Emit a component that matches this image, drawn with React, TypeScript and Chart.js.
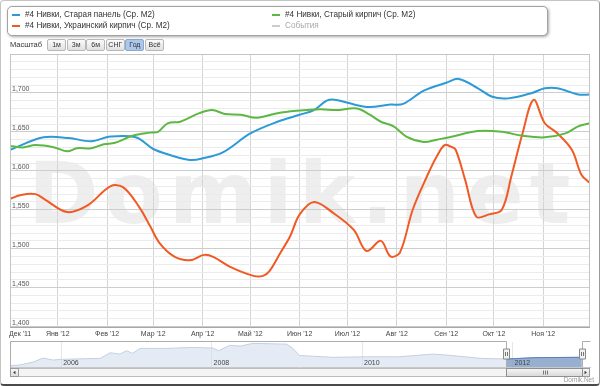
import React, { useEffect, useRef } from "react";
import { Chart, registerables } from "chart.js";

Chart.register(...registerables);

const FONT = '"Liberation Sans", Arial, Helvetica, sans-serif';

// ---- main chart data (x = days since 1 Dec 2011) ----
const monthDays = [0, 31, 62, 91, 122, 152, 183, 213, 244, 275, 305, 336];
const monthLabels = ["Дек '11", "Янв '12", "Фев '12", "Мар '12", "Апр '12", "Май '12", "Июн '12", "Июл '12", "Авг '12", "Сен '12", "Окт '12", "Ноя '12"];
const yLabelValues = [1400, 1450, 1500, 1550, 1600, 1650, 1700];
const yMin = 1400;
const yMax = 1750;
const yGridStep = 10;

const seriesNames = [
  "#4 Нивки, Старая панель (Ср. М2)",
  "#4 Нивки, Старый кирпич (Ср. М2)",
  "#4 Нивки, Украинский кирпич (Ср. М2)",
  "События",
];

const panelDays = [1, 22, 38, 52, 64, 80, 91, 102, 114, 122, 135, 152, 169, 183, 192, 200, 206, 225, 240, 248, 261, 275, 283, 295, 304, 314, 329, 337, 345, 358, 365];
const panelValues = [1627, 1643, 1642, 1638, 1644, 1643, 1628, 1620, 1614, 1616, 1624, 1648, 1663, 1672, 1678, 1690, 1691, 1682, 1685, 1686, 1703, 1713, 1718, 1706, 1695, 1693, 1700, 1706, 1706, 1698, 1698];

const oldBrickDays = [1, 9, 17, 29, 37, 43, 52, 60, 67, 78, 89, 94, 100, 108, 120, 128, 136, 146, 156, 169, 181, 196, 206, 219, 227, 234, 242, 250, 261, 269, 277, 295, 310, 323, 337, 350, 358, 365];
const oldBrickValues = [1632, 1630, 1633, 1630, 1625, 1629, 1629, 1634, 1636, 1645, 1649, 1650, 1661, 1663, 1674, 1678, 1673, 1672, 1668, 1674, 1677, 1679, 1678, 1680, 1672, 1663, 1657, 1644, 1637, 1640, 1643, 1651, 1650, 1645, 1643, 1648, 1657, 1661];

const ukrBrickDays = [1, 8, 17, 23, 37, 50, 64, 72, 82, 89, 95, 104, 114, 123, 129, 139, 154, 160, 164, 171, 177, 183, 192, 204, 217, 225, 234, 240, 246, 254, 263, 269, 274, 278, 281, 287, 294, 302, 310, 316, 323, 330, 337, 345, 354, 360, 365];
const ukrBrickValues = [1564, 1569, 1570, 1563, 1547, 1556, 1580, 1579, 1554, 1529, 1507, 1490, 1485, 1492, 1489, 1477, 1465, 1465, 1471, 1495, 1516, 1544, 1560, 1546, 1524, 1497, 1510, 1490, 1495, 1550, 1593, 1618, 1633, 1631, 1627, 1588, 1541, 1544, 1550, 1593, 1648, 1691, 1661, 1648, 1627, 1595, 1585];

// ---- navigator data (x = year) ----
const navYears = [2005.32, 2005.45, 2005.63, 2005.76, 2005.89, 2006.02, 2006.52, 2006.65, 2006.78, 2006.87, 2006.95, 2007.05, 2007.41, 2007.75, 2008.02, 2008.09, 2008.24, 2008.38, 2008.55, 2009.0, 2009.08, 2009.17, 2009.61, 2010.07, 2010.5, 2010.94, 2011.17, 2011.57, 2011.92, 2012.27, 2012.92];
const navValues = [250, 360, 890, 1600, 1250, 1370, 1550, 2540, 2310, 2900, 2440, 3330, 3330, 3500, 3380, 2900, 3860, 3740, 4220, 4090, 3330, 2050, 1730, 1830, 1830, 2310, 2080, 1550, 1420, 1660, 1740];
const navYearTicks = [2006, 2008, 2010, 2012];
const navRange = [2005.32, 2013.03];
const selectionRange = [2011.92, 2012.92];

const rangeButtons = ["1м", "3м", "6м", "СНГ", "Год", "Всё"];
const selectedButton = 4;

const BLUE = "#2d9ad7";
const GREEN = "#5db843";
const ORANGE = "#f15a24";

const watermarkPlugin = {
  id: "watermark",
  beforeDraw(chart: any) {
    const { ctx, chartArea } = chart;
    ctx.save();
    ctx.beginPath();
    ctx.rect(chartArea.left, chartArea.top, chartArea.right - chartArea.left, chartArea.bottom - chartArea.top);
    ctx.clip();
    ctx.font = 'bold 85px "DejaVu Sans", sans-serif';
    (ctx as any).letterSpacing = "6px";
    ctx.fillStyle = "#eeeeee";
    ctx.textAlign = "left";
    ctx.textBaseline = "alphabetic";
    ctx.fillText("Domik.net", 28, 223);
    ctx.restore();
  },
};

const mainLabelsPlugin = {
  id: "mainLabels",
  afterDraw(chart: any) {
    const { ctx, chartArea } = chart;
    const x = chart.scales.x;
    const y = chart.scales.y;
    ctx.save();
    // border
    ctx.strokeStyle = "#c4c4c4";
    ctx.lineWidth = 1;
    ctx.strokeRect(chartArea.left + 0.5, chartArea.top + 0.5, chartArea.right - chartArea.left - 1, chartArea.bottom - chartArea.top);
    ctx.strokeStyle = "#a8a8a8";
    ctx.beginPath();
    ctx.moveTo(chartArea.left, Math.round(chartArea.bottom) + 0.5);
    ctx.lineTo(chartArea.right, Math.round(chartArea.bottom) + 0.5);
    ctx.stroke();

    ctx.font = `7px ${FONT}`;
    ctx.fillStyle = "#555";
    ctx.textAlign = "left";
    ctx.textBaseline = "alphabetic";
    yLabelValues.forEach((v) => {
      const py = y.getPixelForValue(v);
      ctx.fillText(v.toLocaleString("en-US"), chartArea.left + 2, py - 1.5);
    });
    ctx.fillStyle = "#444";
    monthDays.forEach((d, i) => {
      const label = monthLabels[i];
      const px = x.getPixelForValue(d);
      const w = ctx.measureText(label).width;
      let lx = px - w / 2;
      if (lx < chartArea.left - 1) lx = chartArea.left - 1;
      ctx.fillText(label, lx, chartArea.bottom + 9);
    });
    ctx.restore();
  },
};

const navPlugin = {
  id: "navDecor",
  afterDatasetsDraw(chart: any) {
    const { ctx, chartArea } = chart;
    const x = chart.scales.x;
    const meta = chart.getDatasetMeta(0);
    const x0 = Math.round(x.getPixelForValue(selectionRange[0])) + 0.5;
    const x1 = Math.round(x.getPixelForValue(selectionRange[1])) + 0.5;
    const top = chartArea.top;
    const bottom = chartArea.bottom;
    ctx.save();
    // selected area fill
    ctx.save();
    ctx.beginPath();
    ctx.rect(x0, top, x1 - x0, bottom - top);
    ctx.clip();
    ctx.beginPath();
    const pts = meta.data;
    ctx.moveTo(pts[0].x, bottom);
    pts.forEach((p: any) => ctx.lineTo(p.x, p.y));
    ctx.lineTo(pts[pts.length - 1].x, bottom);
    ctx.closePath();
    ctx.fillStyle = "rgba(88,128,182,0.55)";
    ctx.fill();
    ctx.beginPath();
    pts.forEach((p: any, i: number) => (i ? ctx.lineTo(p.x, p.y) : ctx.moveTo(p.x, p.y)));
    ctx.strokeStyle = "#5b7fae";
    ctx.lineWidth = 1;
    ctx.stroke();
    ctx.restore();

    // year labels
    ctx.font = `7px ${FONT}`;
    ctx.fillStyle = "#444";
    ctx.textAlign = "left";
    ctx.textBaseline = "alphabetic";
    navYearTicks.forEach((t) => {
      ctx.fillText(String(t), x.getPixelForValue(t) + 2, bottom - 2.5);
    });

    // outline
    const left = Math.round(chartArea.left) + 0.5;
    const right = Math.round(chartArea.right) - 0.5;
    const ty = Math.round(top) - 0.5;
    ctx.strokeStyle = "#aeaeae";
    ctx.lineWidth = 1;
    ctx.beginPath();
    ctx.moveTo(left, bottom + 10);
    ctx.lineTo(left, ty);
    ctx.lineTo(x0, ty);
    ctx.lineTo(x0, bottom);
    ctx.moveTo(x1, bottom);
    ctx.lineTo(x1, ty);
    ctx.lineTo(right + 1, ty);
    ctx.stroke();

    // scrollbar
    const sy = Math.round(bottom) + 1.5;
    const sh = 8;
    ctx.fillStyle = "#f4f4f4";
    ctx.fillRect(left, sy, right - left, sh);
    ctx.strokeStyle = "#bdbdbd";
    ctx.strokeRect(left, sy, right - left, sh);
    const btn = (bx: number, dir: number) => {
      const g = ctx.createLinearGradient(0, sy, 0, sy + sh);
      g.addColorStop(0, "#fafafa");
      g.addColorStop(1, "#dcdcdc");
      ctx.fillStyle = g;
      ctx.fillRect(bx, sy, 8, sh);
      ctx.strokeStyle = "#9a9a9a";
      ctx.strokeRect(bx, sy, 8, sh);
      ctx.fillStyle = "#444";
      ctx.beginPath();
      const cx = bx + 4;
      const cy = sy + sh / 2;
      ctx.moveTo(cx + dir * 1.5, cy);
      ctx.lineTo(cx - dir * 1, cy - 1.8);
      ctx.lineTo(cx - dir * 1, cy + 1.8);
      ctx.closePath();
      ctx.fill();
    };
    btn(left, -1);
    btn(right - 8, 1);
    const tg = ctx.createLinearGradient(0, sy, 0, sy + sh);
    tg.addColorStop(0, "#f6f6f6");
    tg.addColorStop(1, "#d8d8d8");
    ctx.fillStyle = tg;
    ctx.fillRect(x0, sy, x1 - x0, sh);
    ctx.strokeStyle = "#8f8f8f";
    ctx.strokeRect(x0, sy, x1 - x0, sh);
    ctx.strokeStyle = "#777";
    const mid = Math.round((x0 + x1) / 2) + 0.5;
    [-2, 0, 2].forEach((o) => {
      ctx.beginPath();
      ctx.moveTo(mid + o, sy + 2);
      ctx.lineTo(mid + o, sy + sh - 2);
      ctx.stroke();
    });

    // handles
    const handle = (hx: number) => {
      const hy = top + 7;
      ctx.fillStyle = "#f0f0f0";
      ctx.strokeStyle = "#8a8a8a";
      ctx.beginPath();
      ctx.rect(hx - 3, hy, 6, 10);
      ctx.fill();
      ctx.stroke();
      ctx.strokeStyle = "#777";
      ctx.beginPath();
      ctx.moveTo(hx - 1, hy + 3);
      ctx.lineTo(hx - 1, hy + 7);
      ctx.moveTo(hx + 1, hy + 3);
      ctx.lineTo(hx + 1, hy + 7);
      ctx.stroke();
    };
    handle(x0);
    handle(x1);

    // credit
    ctx.font = `6.5px ${FONT}`;
    ctx.fillStyle = "#9a9a9a";
    ctx.textAlign = "right";
    ctx.fillText("Domik.Net", 594, 382);
    ctx.restore();
  },
};

const toPoints = (xs: number[], ys: number[]) => xs.map((v, i) => ({ x: v, y: ys[i] }));

export default function App() {
  const mainRef = useRef<HTMLCanvasElement>(null);
  const navRef = useRef<HTMLCanvasElement>(null);

  useEffect(() => {
    const line = (label: string, data: any[], color: string) => ({
      label,
      data,
      borderColor: color,
      backgroundColor: color,
      borderWidth: 2,
      pointRadius: 0,
      tension: 0.35,
      fill: false,
    });
    const main = new Chart(mainRef.current as HTMLCanvasElement, {
      type: "line",
      data: {
        datasets: [
          line(seriesNames[1], toPoints(oldBrickDays, oldBrickValues), GREEN),
          line(seriesNames[0], toPoints(panelDays, panelValues), BLUE),
          line(seriesNames[2], toPoints(ukrBrickDays, ukrBrickValues), ORANGE),
        ],
      },
      options: {
        animation: false,
        responsive: false,
        maintainAspectRatio: false,
        layout: { padding: { left: 10, right: 10, top: 54, bottom: 59.5 } },
        plugins: { legend: { display: false }, tooltip: { enabled: false } },
        scales: {
          x: {
            type: "linear",
            min: 1,
            max: 365.4,
            afterBuildTicks: (s: any) => {
              s.ticks = monthDays.filter((d) => d >= s.min && d <= s.max).map((v) => ({ value: v }));
            },
            ticks: { display: false },
            grid: { color: "#d4d4d4", lineWidth: 1, drawTicks: false },
            border: { display: false },
          },
          y: {
            type: "linear",
            min: yMin,
            max: yMax,
            afterBuildTicks: (s: any) => {
              const t = [];
              for (let v = yMin; v <= yMax; v += yGridStep) t.push({ value: v });
              s.ticks = t;
            },
            ticks: { display: false },
            grid: {
              color: (c: any) => (c.tick && c.tick.value % 50 === 0 ? "#cdcdcd" : "#ebebeb"),
              lineWidth: 1,
              drawTicks: false,
            },
            border: { display: false },
          },
        },
      } as any,
      plugins: [watermarkPlugin, mainLabelsPlugin],
    });

    const nav = new Chart(navRef.current as HTMLCanvasElement, {
      type: "line",
      data: {
        datasets: [
          {
            data: toPoints(navYears, navValues),
            borderColor: "#c3d0e2",
            backgroundColor: "rgba(205,218,235,0.55)",
            borderWidth: 1,
            pointRadius: 0,
            tension: 0,
            fill: "start",
          },
        ],
      },
      options: {
        animation: false,
        responsive: false,
        maintainAspectRatio: false,
        layout: { padding: { left: 10, right: 10, top: 342, bottom: 19 } },
        plugins: { legend: { display: false }, tooltip: { enabled: false } },
        scales: {
          x: {
            type: "linear",
            min: navRange[0],
            max: navRange[1],
            afterBuildTicks: (s: any) => {
              s.ticks = navYearTicks.map((v) => ({ value: v }));
            },
            ticks: { display: false },
            grid: { color: "#e6e6e6", drawTicks: false },
            border: { display: true, color: "#c8c8c8" },
          },
          y: { display: false, min: 0, max: 4470 },
        },
      } as any,
      plugins: [navPlugin],
    });

    return () => {
      main.destroy();
      nav.destroy();
    };
  }, []);

  const legendItems = [
    { name: seriesNames[0], color: BLUE, left: 4, top: 3, muted: false },
    { name: seriesNames[2], color: ORANGE, left: 4, top: 13.5, muted: false },
    { name: seriesNames[1], color: GREEN, left: 264, top: 3, muted: false },
    { name: seriesNames[3], color: "#cccccc", left: 264, top: 13.5, muted: true },
  ];

  return (
    <div
      style={{
        position: "fixed",
        left: 0,
        top: 0,
        width: 600,
        height: 386,
        background: "#fff",
        overflow: "hidden",
        fontFamily: FONT,
      }}
    >
      <canvas ref={mainRef} width={600} height={386} style={{ position: "absolute", left: 0, top: 0 }} />
      <canvas ref={navRef} width={600} height={386} style={{ position: "absolute", left: 0, top: 0 }} />

      <div
        style={{
          position: "absolute",
          left: 7,
          top: 6,
          width: 541,
          height: 30,
          boxSizing: "border-box",
          border: "1px solid #a2a2a2",
          borderRadius: 5,
          boxShadow: "1px 1px 3px rgba(0,0,0,0.35)",
          background: "#fff",
        }}
      >
        {legendItems.map((it, i) => (
          <div
            key={i}
            style={{
              position: "absolute",
              left: it.left,
              top: it.top,
              height: 10,
              display: "flex",
              alignItems: "center",
              fontSize: 8.2,
              lineHeight: "10px",
              color: it.muted ? "#a8a8a8" : "#333",
              whiteSpace: "nowrap",
            }}
          >
            <span style={{ display: "inline-block", width: 8, height: 2, background: it.color, marginRight: 5 }} />
            {it.name}
          </div>
        ))}
      </div>

      <div
        style={{
          position: "absolute",
          left: 10,
          top: 39,
          height: 12,
          lineHeight: "12px",
          fontSize: 7.5,
          color: "#333",
          whiteSpace: "nowrap",
        }}
      >
        Масштаб
      </div>
      {rangeButtons.map((b, i) => (
        <div
          key={b}
          style={{
            position: "absolute",
            left: 47 + i * 19.6,
            top: 39,
            width: 19,
            height: 12,
            boxSizing: "border-box",
            border: i === selectedButton ? "1px solid #8ea8cc" : "1px solid #b8b8b8",
            borderRadius: 2,
            background: i === selectedButton ? "#abc7ec" : "linear-gradient(#fbfbfb, #e0e0e0)",
            fontSize: 7,
            lineHeight: "10px",
            textAlign: "center",
            color: "#333",
          }}
        >
          {b}
        </div>
      ))}

      <div
        style={{
          position: "absolute",
          left: 0,
          top: 0,
          width: 600,
          height: 386,
          boxSizing: "border-box",
          border: "1px solid #c4c4c4",
          borderRightColor: "#9a9a9a",
          borderBottom: "2px solid #4a4a4a",
          borderRadius: 4,
          pointerEvents: "none",
        }}
      />
    </div>
  );
}
